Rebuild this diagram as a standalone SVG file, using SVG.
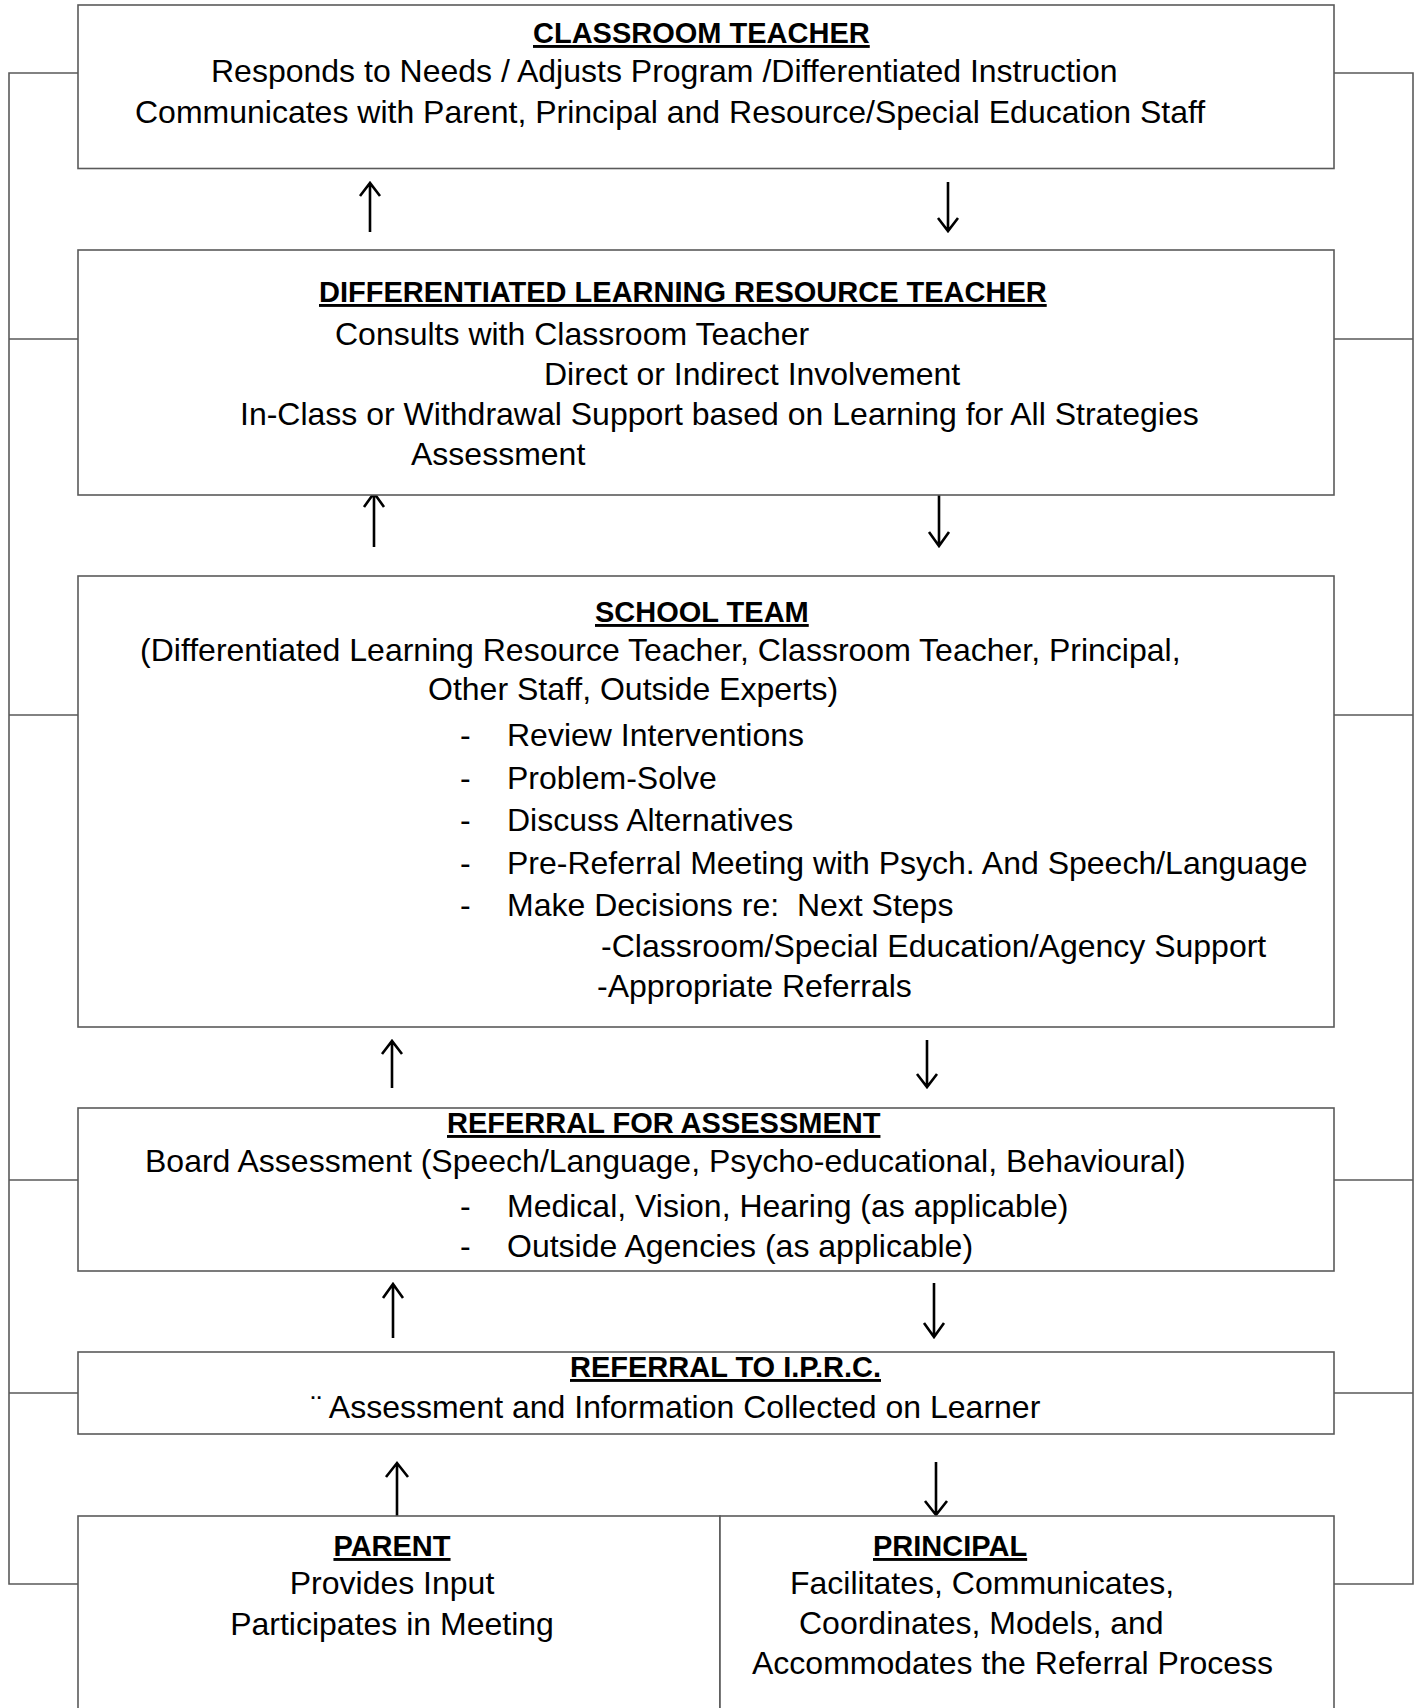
<svg xmlns="http://www.w3.org/2000/svg" width="1423" height="1708" viewBox="0 0 1423 1708">
<style>
.box{fill:#fff;stroke:#5a5a5a;stroke-width:1.6}
.br{fill:none;stroke:#5a5a5a;stroke-width:1.6}
.ar{fill:none;stroke:#000;stroke-width:2.6;stroke-linecap:butt;stroke-linejoin:miter}
text{font-family:"Liberation Sans",Arial,sans-serif;fill:#000;white-space:pre}
.t{font-size:29px;font-weight:bold;text-decoration:underline;text-decoration-thickness:3px}
.r{font-size:32px}
.c{text-anchor:middle}
</style>
<rect width="1423" height="1708" fill="#fff"/>
<g id="connectors">
<path class="br" d="M78 73H9V1584H78M9 339H78M9 715H78M9 1180H78M9 1393H78"/>
<path class="br" d="M1334 73H1413V1584H1334M1413 339H1334M1413 715H1334M1413 1180H1334M1413 1393H1334"/>
<path class="ar" d="M370 232V183M360 196L370 183L380 196"/>
<path class="ar" d="M948 182V231M938 218L948 231L958 218"/>
<path class="ar" d="M374 547V493M364 507L374 493L384 507"/>
<path class="ar" d="M939 492V546M929 532L939 546L949 532"/>
<path class="ar" d="M392 1088V1041M382 1054L392 1041L402 1054"/>
<path class="ar" d="M927 1040V1087M917 1074L927 1087L937 1074"/>
<path class="ar" d="M393 1338V1284M383 1298L393 1284L403 1298"/>
<path class="ar" d="M934 1283V1337M924 1323L934 1337L944 1323"/>
<path class="ar" d="M397 1516V1463M386 1477L397 1463L408 1477"/>
<path class="ar" d="M936 1462V1515M925 1501L936 1515L947 1501"/>
</g>
<g id="classroom-teacher">
<rect class="box" x="78" y="5" width="1256" height="163.5"/>
<text class="t" x="533" y="43">CLASSROOM TEACHER</text>
<text class="r" x="211" y="82">Responds to Needs / Adjusts Program /Differentiated Instruction</text>
<text class="r" x="135" y="123">Communicates with Parent, Principal and Resource/Special Education Staff</text>
</g>
<g id="dlrt">
<rect class="box" x="78" y="250" width="1256" height="245"/>
<text class="t" x="319" y="302">DIFFERENTIATED LEARNING RESOURCE TEACHER</text>
<text class="r" x="335" y="345">Consults with Classroom Teacher</text>
<text class="r" x="544" y="385">Direct or Indirect Involvement</text>
<text class="r" x="240" y="425">In-Class or Withdrawal Support based on Learning for All Strategies</text>
<text class="r" x="411" y="465">Assessment</text>
</g>
<g id="school-team">
<rect class="box" x="78" y="576" width="1256" height="451"/>
<text class="t" x="595" y="622">SCHOOL TEAM</text>
<text class="r" x="140" y="661">(Differentiated Learning Resource Teacher, Classroom Teacher, Principal,</text>
<text class="r" x="428" y="700">Other Staff, Outside Experts)</text>
<text class="r" x="460" y="746">-</text><text class="r" x="507" y="746">Review Interventions</text>
<text class="r" x="460" y="789">-</text><text class="r" x="507" y="789">Problem-Solve</text>
<text class="r" x="460" y="831">-</text><text class="r" x="507" y="831">Discuss Alternatives</text>
<text class="r" x="460" y="874">-</text><text class="r" x="507" y="874">Pre-Referral Meeting with Psych. And Speech/Language</text>
<text class="r" x="460" y="916">-</text><text class="r" x="507" y="916" xml:space="preserve">Make Decisions re:  Next Steps</text>
<text class="r" x="601" y="957">-Classroom/Special Education/Agency Support</text>
<text class="r" x="597" y="997">-Appropriate Referrals</text>
</g>
<g id="referral-assessment">
<rect class="box" x="78" y="1108" width="1256" height="163"/>
<text class="t" x="447" y="1133">REFERRAL FOR ASSESSMENT</text>
<text class="r" x="145" y="1172">Board Assessment (Speech/Language, Psycho-educational, Behavioural)</text>
<text class="r" x="460" y="1217">-</text><text class="r" x="507" y="1217">Medical, Vision, Hearing (as applicable)</text>
<text class="r" x="460" y="1257">-</text><text class="r" x="507" y="1257">Outside Agencies (as applicable)</text>
</g>
<g id="referral-iprc">
<rect class="box" x="78" y="1352" width="1256" height="82"/>
<text class="t" x="570" y="1377">REFERRAL TO I.P.R.C.</text>
<text class="r" x="311" y="1418">¨ Assessment and Information Collected on Learner</text>
</g>
<g id="parent">
<rect class="box" x="78" y="1516" width="642" height="210"/>
<text class="t c" x="392" y="1556">PARENT</text>
<text class="r c" x="392" y="1594">Provides Input</text>
<text class="r c" x="392" y="1635">Participates in Meeting</text>
</g>
<g id="principal">
<rect class="box" x="720" y="1516" width="614" height="210"/>
<text class="t" x="873" y="1556">PRINCIPAL</text>
<text class="r" x="790" y="1594">Facilitates, Communicates,</text>
<text class="r" x="799" y="1634">Coordinates, Models, and</text>
<text class="r" x="752" y="1674">Accommodates the Referral Process</text>
</g>
</svg>
